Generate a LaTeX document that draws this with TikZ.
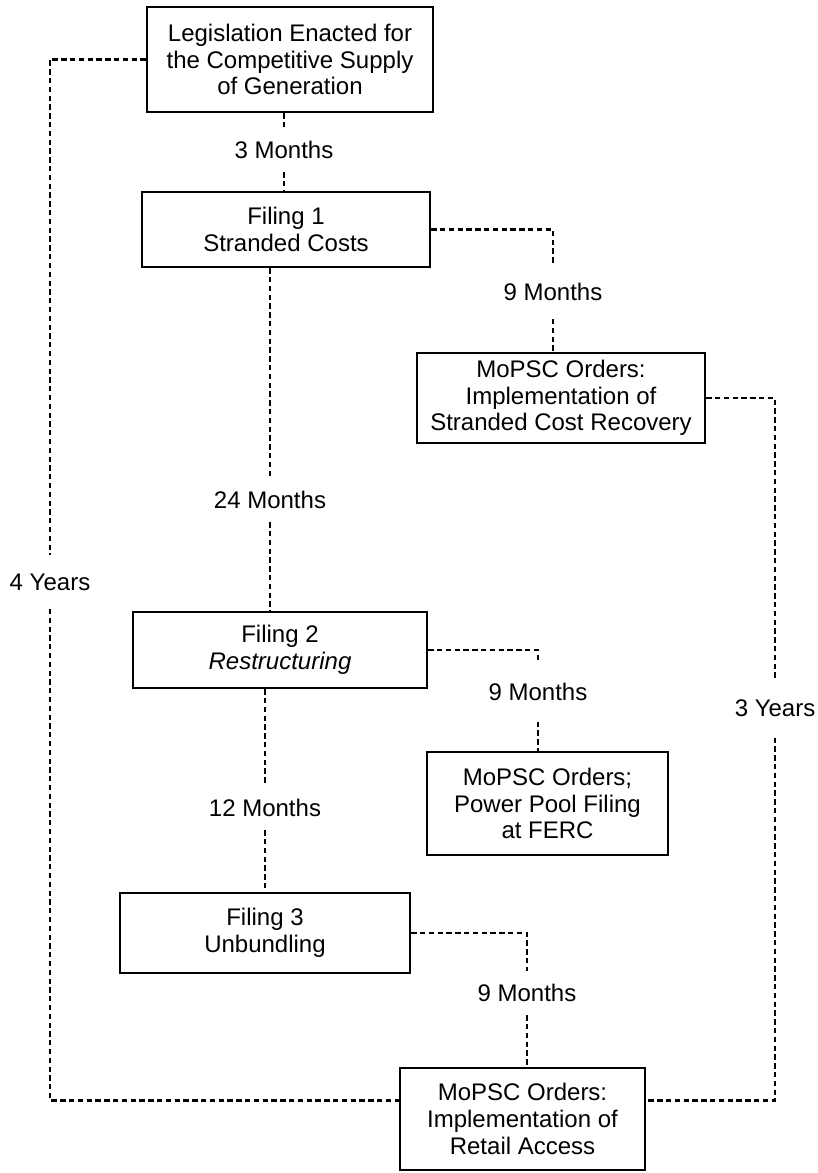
\documentclass[tikz,border=0pt]{standalone}
\usepackage{fontspec}
\setmainfont{Liberation Sans}
\begin{document}
\begin{tikzpicture}[x=0.75pt,y=-0.75pt,
  box/.style={draw, line width=1.8pt, align=center, inner sep=0pt,
    font=\fontsize{18}{20}\selectfont},
  lbl/.style={inner sep=0pt, minimum height=33pt,
    font=\fontsize{18}{20}\selectfont},
  conn/.style={line width=2pt, dash pattern=on 4pt off 2.6pt}]
\useasboundingbox (0,0) rectangle (817,1173);

% boxes
\node[box, minimum width=214.5pt, minimum height=78.75pt] (A) at (290,59.5)
  {Legislation Enacted for\\the Competitive Supply\\of Generation};
\node[box, minimum width=216pt, minimum height=56.25pt] (B) at (286,229.5)
  {Filing 1\\Stranded Costs};
\node[box, minimum width=216pt, minimum height=67.5pt] (C) at (561,398)
  {MoPSC Orders:\\Implementation of\\Stranded Cost Recovery};
\node[box, minimum width=220.5pt, minimum height=57pt] (D) at (280,650)
  {Filing 2\\\textit{Restructuring}};
\node[box, minimum width=180.75pt, minimum height=77.25pt] (E) at (547.5,803.5)
  {MoPSC Orders;\\Power Pool Filing\\at FERC};
\node[box, minimum width=217.5pt, minimum height=60pt] (F) at (265,933)
  {Filing 3\\Unbundling};
\node[box, minimum width=183.75pt, minimum height=76.5pt] (G) at (522.5,1119)
  {MoPSC Orders:\\Implementation of\\Retail Access};

% labels
\node[lbl] (l3) at (284,150) {3 Months};
\node[lbl, minimum height=40pt] (m1) at (553,292) {9 Months};
\node[lbl] (l24) at (270,500) {24 Months};
\node[lbl, minimum height=44pt] (m2) at (538,692) {9 Months};
\node[lbl] (l12) at (265,808) {12 Months};
\node[lbl] (m3) at (527,993) {9 Months};
\node[lbl, minimum height=40pt] (y4) at (50,582) {4 Years};
\node[lbl, minimum height=44pt] (y3) at (775,708) {3 Years};

% connectors
\draw[conn] (A.south -| l3) -- (l3.north);
\draw[conn] (l3.south) -- (l3.south |- B.north);
\draw[conn] (B.east) -| (m1.north);
\draw[conn] (m1.south) -- (m1.south |- C.north);
\draw[conn] (B.south -| l24) -- (l24.north);
\draw[conn] (l24.south) -- (l24.south |- D.north);
\draw[conn] (D.east) -| (m2.north);
\draw[conn] (m2.south) -- (m2.south |- E.north);
\draw[conn] (D.south -| l12) -- (l12.north);
\draw[conn] (l12.south) -- (l12.south |- F.north);
\draw[conn] (F.east) -| (m3.north);
\draw[conn] (m3.south) -- (m3.south |- G.north);
\draw[conn] (A.west) -| (y4.north);
\draw[conn] (y4.south) |- ([yshift=14pt]G.west);
\draw[conn] (C.east) -| (y3.north);
\draw[conn] (y3.south) |- ([yshift=14pt]G.east);
\end{tikzpicture}
\end{document}
